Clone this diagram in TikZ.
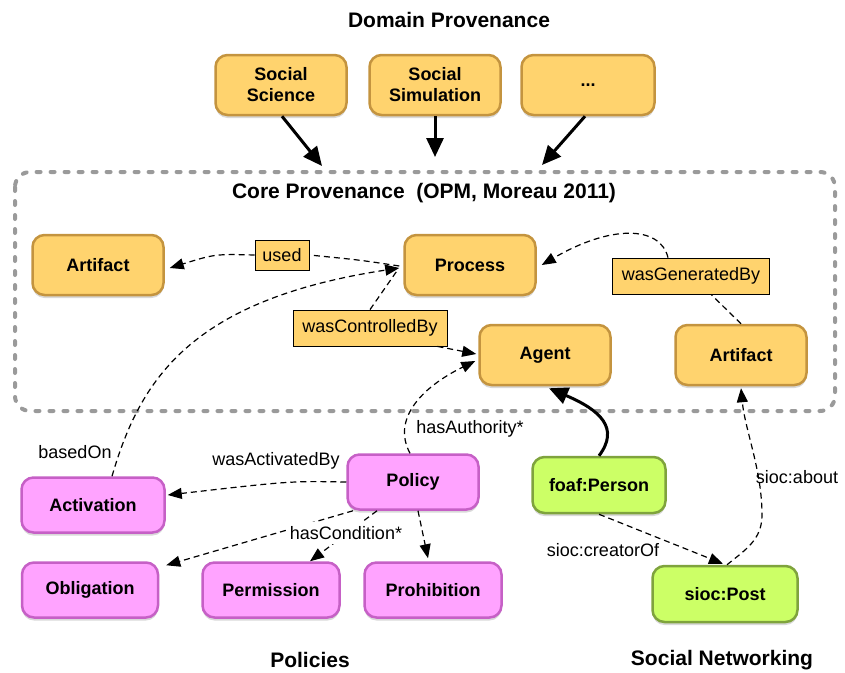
\documentclass[tikz,border=0pt]{standalone}
\usepackage{fontspec}
\setmainfont{Liberation Sans}
\usetikzlibrary{arrows.meta,shadows}
\definecolor{ofill}{HTML}{FFD36E}
\definecolor{odraw}{HTML}{C4943F}
\definecolor{pfill}{HTML}{FFA3FF}
\definecolor{pdraw}{HTML}{C660C6}
\definecolor{gfill}{HTML}{CCFF66}
\definecolor{gdraw}{HTML}{7FA33D}
\definecolor{framegray}{HTML}{9A9A9A}
\begin{document}
\begin{tikzpicture}[x=1pt,y=-1pt,
  box/.style={rounded corners=12pt, minimum width=131pt, minimum height=60pt, line width=2.5pt,
    font=\fontsize{18}{21}\selectfont\bfseries, align=center, inner sep=2pt,
    drop shadow={shadow xshift=0pt,shadow yshift=-3pt,opacity=0.3}},
  obox/.style={box, draw=odraw, fill=ofill},
  pbox/.style={box, draw=pdraw, fill=pfill, minimum height=55pt},
  gbox/.style={box, draw=gdraw, fill=gfill, minimum height=56pt},
  lbl/.style={draw=black, fill=ofill, line width=0.8pt, inner sep=0pt, font=\fontsize{18}{21}\selectfont},
  elbl/.style={font=\fontsize{18}{21}\selectfont, inner sep=1pt},
  ttl/.style={font=\fontsize{21}{24}\selectfont\bfseries},
  dsh/.style={dash pattern=on 6pt off 4pt, line width=1.2pt},
  tip/.style={-{Triangle[length=14pt,width=11pt]}},
  bigarrow/.style={line width=3pt, -{Triangle[length=19pt,width=17pt]}}
]
\useasboundingbox (0,0) rectangle (845,672);

% frame
\draw[framegray, line width=4pt, line cap=round, dash pattern=on 4pt off 10pt, rounded corners=15pt]
  (15,172) rectangle (835,411);

% titles
\node[ttl] (tDomain) at (449,20) {Domain Provenance};
\node[ttl] (tCore) at (424,193) {Core Provenance~ (OPM, Moreau 2011)};
\node[ttl] (tPol) at (310,660) {Policies};
\node[ttl] (tSoc) at (722,660) {Social Networking};

% domain nodes
\node[obox] (SS) at (281,85) {Social\\Science};
\node[obox] (SSim) at (435,85) {Social\\Simulation};
\node[obox, minimum width=133pt] (Dots) at (588,85) {...};
\coordinate (c1) at (322,166);
\coordinate (c2) at (435,157);
\coordinate (c3) at (542,165);
\draw[bigarrow] ([xshift=1pt]SS.south) -- (c1);
\draw[bigarrow] (SSim.south) -- (c2);
\draw[bigarrow] ([xshift=-3pt]Dots.south) -- (c3);

% core nodes
\node[obox] (ArtL) at (98,265) {Artifact};
\node[obox] (Proc) at (470,265) {Process};
\node[obox] (Agent) at (545,355) {Agent};
\node[obox] (ArtR) at (741,355) {Artifact};

\node[lbl, minimum width=54pt, minimum height=30pt] (used) at (282,255) {used};
\node[lbl, minimum width=157pt, minimum height=36pt] (wgb) at (691,276) {wasGeneratedBy};
\node[lbl, minimum width=154pt, minimum height=36pt] (wcb) at (370,328) {wasControlledBy};

% policy nodes
\node[pbox, minimum width=131pt] (Pol) at (413,482) {Policy};
\node[pbox, minimum width=143pt] (Act) at (93,505) {Activation};
\node[pbox, minimum width=136pt] (Obl) at (90,590) {Obligation};
\node[pbox, minimum width=137pt] (Perm) at (271,590) {Permission};
\node[pbox, minimum width=137pt] (Proh) at (433,590) {Prohibition};

% social nodes
\node[gbox, minimum width=133pt] (Person) at (599,485) {foaf:Person};
\node[gbox, minimum width=145pt] (Post) at (725,594) {sioc:Post};

% used
\draw[dsh] ([xshift=-4pt,yshift=-1pt]Proc.west) .. controls (360,260) .. (used.east);
\draw[dsh,tip] (used.west) .. controls (215,254) .. ([xshift=5pt,yshift=-3pt]ArtL.east);

% wasGeneratedBy
\draw[dsh] (ArtR.north) -- ([xshift=20pt]wgb.south);
\draw[dsh,tip] ([xshift=-23pt]wgb.north) .. controls (660,225) and (610,225) .. ([xshift=5pt]Proc.east);

% wasControlledBy
\draw[dsh] (wcb.north) -- ([xshift=-5pt,yshift=-4pt]Proc.west);
\draw[dsh,tip] ([xshift=-10pt]wcb.south east) -- ([xshift=-2pt,yshift=1pt]Agent.west);

% basedOn
\draw[dsh,tip] ([xshift=19pt]Act.north) .. controls (140,380) and (190,300) .. ([xshift=-4pt,yshift=-3pt]Proc.west);
\node[elbl] (lBased) at (75,452) {basedOn};

% hasAuthority
\draw[dsh,tip] ([xshift=-3pt]Pol.north) .. controls (392,420) and (420,388) .. ([xshift=-3pt,yshift=-6pt]Agent.west);
\node[elbl] (lAuth) at (470,429) {hasAuthority*};

% wasActivatedBy
\draw[dsh,tip] (Pol.west) .. controls (290,481) .. ([xshift=2pt,yshift=10pt]Act.east);
\node[elbl] (lAct) at (276,461) {wasActivatedBy};

% hasCondition
\draw[dsh,tip] ([xshift=-60pt]Pol.south) -- ([xshift=7pt,yshift=-4pt]Obl.north east);
\draw[dsh,tip] ([xshift=-36pt]Pol.south) -- ([xshift=39pt]Perm.north);
\draw[dsh,tip] ([xshift=5pt]Pol.south) -- ([xshift=-5pt,yshift=3pt]Proh.north);
\node[elbl, fill=white, inner xsep=4pt, inner ysep=4pt] (lCond) at (346,533) {hasCondition*};

% social
\draw[bigarrow] (Person.north) .. controls (620,428) and (600,410) .. ([xshift=4pt,yshift=-2pt]Agent.south);
\draw[dsh,tip] (Person.south) -- ([xshift=-2pt,yshift=1pt]Post.north);
\node[elbl] (lCreator) at (603,550) {sioc:creatorOf};
\draw[dsh,tip] ([xshift=2pt]Post.north) .. controls (745,550) and (762,540) .. (762,515)
  .. controls (762,470) and (745,430) .. ([yshift=-2pt]ArtR.south);
\node[elbl] (lAbout) at (797,477) {sioc:about};
\end{tikzpicture}
\end{document}
